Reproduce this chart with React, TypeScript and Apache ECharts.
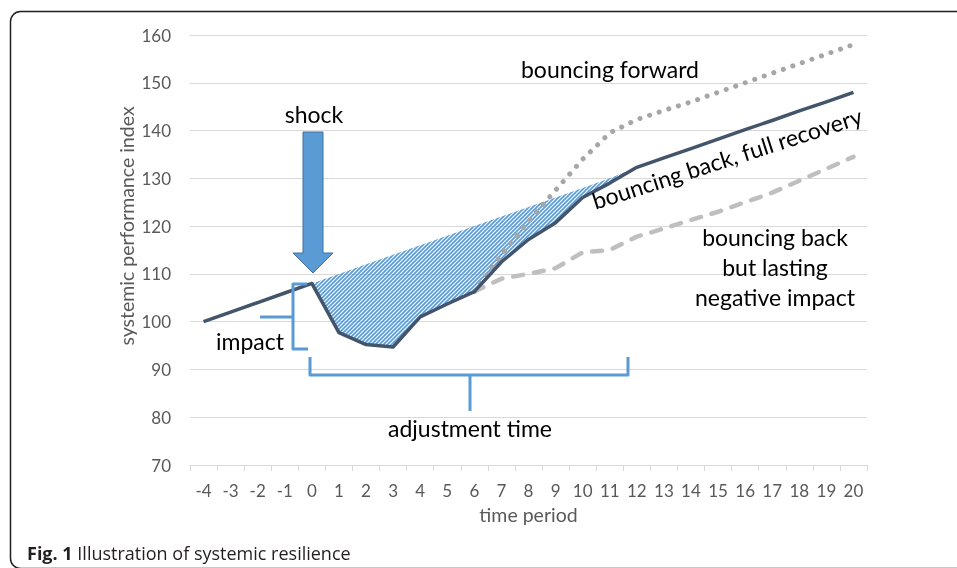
import React, { useEffect, useRef } from 'react';
import * as echarts from 'echarts';

const periods = ['-4', '-3', '-2', '-1', '0', '1', '2', '3', '4', '5', '6', '7', '8', '9', '10', '11', '12', '13', '14', '15', '16', '17', '18', '19', '20'];
const yTicks = { min: 70, max: 160, interval: 10 };

// bouncing back, full recovery (solid)
const fullRecovery = [100, 102, 104, 106, 108, 97.7, 95.2, 94.7, 101, 103.7, 106.3, 112.5, 117.2, 120.7, 126, 129, 132.3, 134.3, 136.2, 138.2, 140.2, 142.1, 144.1, 146, 148];
// bouncing forward (dotted)
const bouncingForward = [null, null, null, null, null, null, null, null, null, null, 106.3, 114, 121, 127.5, 134, 139.5, 142.3, 144.2, 146, 148, 150, 152, 154, 156, 158];
// bouncing back but lasting negative impact (dashed)
const lastingImpact = [null, null, null, null, null, null, null, null, null, null, 106.3, 109, 110, 111.2, 114.5, 115, 117.8, 119.5, 121.3, 123, 125, 127, 129.5, 132, 134.5];
// pre-shock trend continued (upper edge of hatched area)
const recoveryTrend = [null, null, null, null, 108, 110, 112, 114, 116, 118, 120, 122, 124, 126, 128, 130, 132.3, null, null, null, null, null, null, null, null];

const FONT = 'Lato';

export default function App() {
  const ref = useRef<HTMLDivElement>(null);
  useEffect(() => {
    document.body.style.margin = '0';
    const chart = echarts.init(ref.current!, null, { renderer: 'svg' });

    const canvas = document.createElement('canvas');
    canvas.width = 4;
    canvas.height = 4;
    const ctx = canvas.getContext('2d')!;
    ctx.strokeStyle = '#5b9bd5';
    ctx.lineWidth = 1.7;
    ctx.beginPath();
    ctx.moveTo(0, 4); ctx.lineTo(4, 0);
    ctx.moveTo(-1, 1); ctx.lineTo(1, -1);
    ctx.moveTo(3, 5); ctx.lineTo(5, 3);
    ctx.stroke();

    const hatchBase = recoveryTrend.map((v, i) => (v == null ? null : fullRecovery[i]));
    const hatchGap = recoveryTrend.map((v, i) => (v == null ? null : Math.max(0, v - fullRecovery[i])));

    const blue = '#5b9bd5';
    const txt = (x: number, y: number, text: string, extra: any = {}) => ({
      type: 'text', x, y, z: 50,
      style: { text, fill: '#000', font: `23px ${FONT}`, align: 'center', verticalAlign: 'middle', ...extra },
    });

    chart.setOption({
      animation: false,
      grid: { left: 190, right: 90, top: 35, bottom: 103 },
      xAxis: {
        type: 'category',
        data: periods,
        boundaryGap: true,
        name: 'time period',
        nameLocation: 'middle',
        nameGap: 39,
        nameTextStyle: { color: '#595959', fontSize: 19.5, fontFamily: FONT },
        axisLine: { lineStyle: { color: '#d9d9d9', width: 1 } },
        axisTick: { show: true, length: 6, lineStyle: { color: '#d9d9d9' } },
        axisLabel: { interval: 0, color: '#595959', fontSize: 17, fontFamily: FONT, margin: 17 },
        splitLine: { show: false },
      },
      yAxis: {
        type: 'value',
        min: yTicks.min,
        max: yTicks.max,
        interval: yTicks.interval,
        axisLine: { show: false },
        axisTick: { show: false },
        axisLabel: { color: '#595959', fontSize: 17, fontFamily: FONT, margin: 19 },
        splitLine: { lineStyle: { color: '#d9d9d9', width: 1 } },
      },
      series: [
        {
          type: 'line', data: hatchBase, stack: 'hatch', symbol: 'none',
          lineStyle: { opacity: 0 }, z: 1, silent: true,
        },
        {
          type: 'line', data: hatchGap, stack: 'hatch', symbol: 'none',
          lineStyle: { opacity: 0 },
          areaStyle: { color: { image: canvas, repeat: 'repeat' }, opacity: 1 },
          z: 1, silent: true,
        },
        {
          type: 'line', data: lastingImpact, symbol: 'none', z: 3,
          lineStyle: { color: '#bfbfbf', width: 4.5, type: [10, 11], cap: 'round' },
        },
        {
          type: 'line', data: bouncingForward, symbol: 'none', z: 3,
          lineStyle: { color: '#a6a6a6', width: 5, type: [0.1, 10], cap: 'round' },
        },
        {
          type: 'line', data: fullRecovery, symbol: 'none', z: 4,
          lineStyle: { color: '#44546a', width: 3.5, join: 'round' },
        },
      ],
      graphic: [
        {
          type: 'rect', z: 100, silent: true,
          shape: { x: 10.5, y: 11.5, width: 1000, height: 557, r: [10, 0, 0, 10] },
          style: { fill: 'none', stroke: '#231f20', lineWidth: 1.5 },
        },
        {
          type: 'text', x: 27, y: 553, z: 50,
          style: {
            text: '{b|Fig. 1} Illustration of systemic resilience',
            font: '18px "Open Sans"', fill: '#231f20', verticalAlign: 'middle', align: 'left',
            rich: { b: { fontWeight: 'bold', fontSize: 18, fontFamily: 'Open Sans', fill: '#231f20' } },
          },
        },
        {
          type: 'text', x: 126, y: 226, rotation: Math.PI / 2, z: 50,
          style: { text: 'systemic performance index', fill: '#595959', font: `19.5px ${FONT}`, align: 'center', verticalAlign: 'middle' },
        },
        {
          type: 'polygon', z: 20,
          shape: { points: [[303, 132], [323, 132], [323, 253], [333, 253], [313, 273], [293, 253], [303, 253]] },
          style: { fill: blue, stroke: '#41719c', lineWidth: 1 },
        },
        {
          type: 'polyline', z: 20,
          shape: { points: [[307, 284], [293, 284], [293, 349], [308, 349]] },
          style: { stroke: blue, lineWidth: 3, fill: 'none', lineJoin: 'round' },
        },
        {
          type: 'polyline', z: 20,
          shape: { points: [[260, 317], [293, 317]] },
          style: { stroke: blue, lineWidth: 3, fill: 'none' },
        },
        {
          type: 'polyline', z: 20,
          shape: { points: [[310, 357], [310, 375], [628, 375], [628, 357]] },
          style: { stroke: blue, lineWidth: 3, fill: 'none', lineJoin: 'round' },
        },
        {
          type: 'polyline', z: 20,
          shape: { points: [[470, 375], [470, 411]] },
          style: { stroke: blue, lineWidth: 3, fill: 'none' },
        },
        txt(314, 114, 'shock'),
        txt(250, 341, 'impact'),
        txt(470, 428, 'adjustment time'),
        txt(610, 69, 'bouncing forward'),
        { ...txt(727, 158, 'bouncing back, full recovery'), rotation: 0.312 },
        txt(775, 237, 'bouncing back'),
        txt(775, 267, 'but lasting'),
        txt(775, 297, 'negative impact'),
      ],
    });
    return () => chart.dispose();
  }, []);
  return <div ref={ref} style={{ position: 'fixed', left: 0, top: 0, width: 957, height: 568 }} />;
}
